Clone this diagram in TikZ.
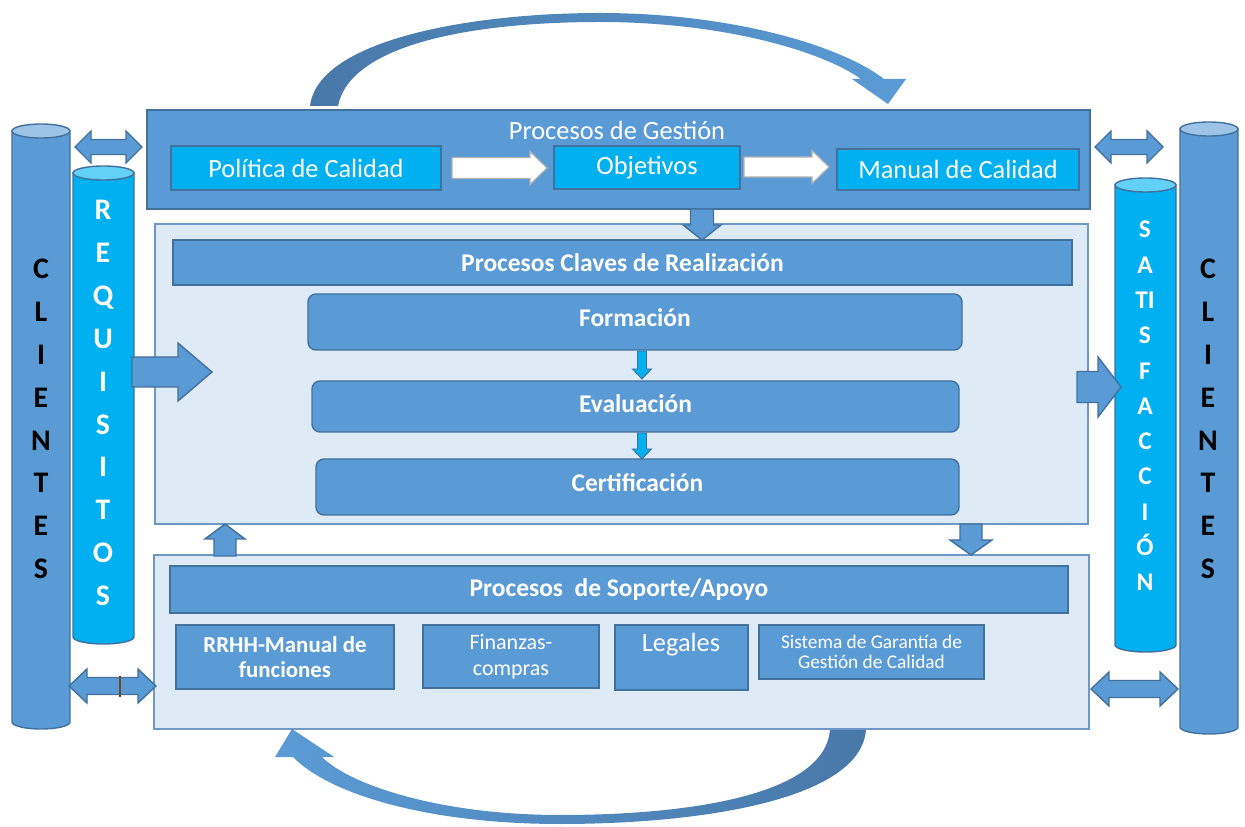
\documentclass[tikz,border=0pt]{standalone}
\usepackage{fontspec}
\setmainfont{Carlito}
\usepackage{tikz}
\usetikzlibrary{fit,calc}
\definecolor{cMid}{HTML}{5B9BD5}
\definecolor{cEdge}{HTML}{41719C}
\definecolor{cCyan}{HTML}{00B0F0}
\definecolor{cCyanTop}{HTML}{63D0F6}
\definecolor{cMidTop}{HTML}{9DC3E6}
\definecolor{cLight}{HTML}{DEEBF7}
\definecolor{cFrame}{HTML}{6E98C8}
\definecolor{cArc}{HTML}{4878A8}
\definecolor{cMark}{HTML}{6B4A2A}
\newcommand{\gtext}{\fontsize{15}{18}\selectfont}
\newcommand{\btext}{\bfseries\fontsize{14.5}{17}\selectfont}
% upright cylinder: left, right, top, bottom, body colour, lid colour
\newcommand{\drum}[6]{%
	\filldraw[draw=cEdge, fill=#5, line width=0.8pt]
	(#1,-#3) -- (#1,-#4) arc[start angle=180, end angle=360, x radius={(#2-#1)/2}, y radius=7] -- (#2,-#3) -- cycle;
	\filldraw[draw=cEdge, fill=#6, line width=0.8pt]
	({(#1+#2)/2},-#3) ellipse [x radius={(#2-#1)/2}, y radius=7];
}

\begin{document}
\begin{tikzpicture}[x=0.02cm, y=0.02cm,
	gbox/.style={draw=cEdge, fill=cMid, line width=0.8pt, inner sep=0pt},
	cbox/.style={gbox, fill=cCyan},
	framebox/.style={draw=cFrame, fill=cLight, line width=0.8pt, inner sep=0pt},
	stagebox/.style={gbox, rounded corners=4.5pt},
	txt/.style={text=white, font=\gtext, inner sep=0pt, align=center},
	btxt/.style={txt, font=\btext},
	blockarrow/.style={draw=cEdge, fill=cMid, line width=0.8pt},
	letters/.style={align=center, inner sep=0pt, font=\bfseries\fontsize{17}{24.4}\selectfont},
	pics/barrow/.style args={#1/#2/#3/#4}{code={
		\path[pic actions] (0,-#2/2) -- (#1-#4,-#2/2) -- (#1-#4,-#3/2) -- (#1,0)
		-- (#1-#4,#3/2) -- (#1-#4,#2/2) -- (0,#2/2) -- cycle;}},
	pics/dbarrow/.style args={#1/#2/#3/#4}{code={
		\path[pic actions] (0,0) -- (#4,#3/2) -- (#4,#2/2) -- (#1-#4,#2/2) -- (#1-#4,#3/2)
		-- (#1,0) -- (#1-#4,-#3/2) -- (#1-#4,-#2/2) -- (#4,-#2/2) -- (#4,-#3/2) -- cycle;}}
	]
	\useasboundingbox (0,0) rectangle (1245,-827);

	% the two loops over and under the processes
	\path[left color=cArc, right color=cMid]
	(310,-106) .. controls (318,-40) and (470,-13) .. (600,-13)
	.. controls (730,-13) and (840,-45) .. (884,-79)
	-- (906,-79) -- (888,-104) -- (852,-79) -- (861,-79)
	.. controls (820,-50) and (720,-22) .. (600,-22)
	.. controls (470,-22) and (350,-45) .. (338,-106) -- cycle;
	\path[left color=cMid, right color=cArc]
	(866,-729) .. controls (862,-800) and (700,-824) .. (560,-824)
	.. controls (430,-824) and (330,-795) .. (293,-757)
	-- (275,-757) -- (292,-729) -- (334,-757) -- (322,-757)
	.. controls (350,-785) and (440,-815) .. (560,-815)
	.. controls (690,-815) and (826,-795) .. (830,-729) -- cycle;

	% clients and their columns
	\drum{12}{70}{131}{722}{cMid}{cMidTop}
	\drum{73}{134}{173}{637}{cCyan}{cCyanTop}
	\drum{1115}{1176}{185}{645}{cCyan}{cCyanTop}
	\drum{1180}{1238}{129}{727}{cMid}{cMidTop}
	\node[letters] (cliL) at (41,-419) {C\\L\\I\\E\\N\\T\\E\\S};
	\node[letters, text=white] (req) at (103,-403) {R\\E\\Q\\U\\I\\S\\I\\T\\O\\S};
	\node[letters, text=white, font=\bfseries\fontsize{14.5}{20.1}\selectfont] (sat) at (1145,-406)
	{S\\A\\TI\\S\\F\\A\\C\\C\\I\\Ó\\N};
	\node[letters] (cliR) at (1208,-419) {C\\L\\I\\E\\N\\T\\E\\S};

	% management
	\node[gbox, fit={(147,-110) (1090,-209)}] (gest) {};
	\node[txt] (gestTitle) at (617,-130) {Procesos de Gestión};
	\node[cbox, fit={(171,-146) (441,-190)}, label={[txt, name=polTxt]center:Política de Calidad}] (pol) {};
	\node[cbox, fit={(554,-146) (740,-189)}, label={[txt, name=objTxt]center:Objetivos}] (obj) {};
	\node[cbox, fit={(837,-149) (1079,-190)}, label={[txt, name=manTxt]center:Manual de Calidad}] (man) {};
	\pic[draw=black!30, fill=white, line width=0.7pt] at (452,-168) {barrow=95/21/33/17};
	\pic[draw=black!30, fill=white, line width=0.7pt] at (744,-167) {barrow=85/20/33/17};

	% key processes
	\node[framebox, fit={(155,-224) (1088,-524)}] (claves) {};
	\node[gbox, fit={(173,-240) (1072,-285)},
	label={[btxt, name=clavesTxt]center:Procesos Claves de Realización}] (clavesBar) {};
	\node[stagebox, fit={(308,-294) (962,-350)}, label={[btxt, name=formTxt, yshift=2.5pt]center:Formación}] (form) {};
	\node[stagebox, fit={(312,-381) (959,-432)}, label={[btxt, name=evalTxt, yshift=1.5pt]center:Evaluación}] (eval) {};
	\node[stagebox, fit={(316,-459) (959,-515)}, label={[btxt, name=certTxt, yshift=2.5pt]center:Certificación}] (cert) {};
	\pic[draw=cEdge, fill=cCyan, line width=0.5pt, rotate=-90] at (642,-351) {barrow=28/9/19/10};
	\pic[draw=cEdge, fill=cCyan, line width=0.5pt, rotate=-90] at (642,-433) {barrow=26/9/19/10};
	\pic[blockarrow, rotate=-90] at (702,-209) {barrow=31/23/38/15};

	% support
	\node[framebox, fit={(154,-555) (1089,-729)}] (sop) {};
	\node[gbox, fit={(170,-566) (1068,-613)},
	label={[btxt, name=sopTxt]center:Procesos\ \ de Soporte/Apoyo}] (sopBar) {};
	\node[gbox, fit={(176,-625) (394,-689)},
	label={[txt, name=rrhhTxt, font=\bfseries\fontsize{13}{14.5}\selectfont]center:RRHH-Manual de\\funciones}] (rrhh) {};
	\node[gbox, fit={(423,-625) (599,-688)},
	label={[txt, name=finTxt, font=\fontsize{12.5}{14.7}\selectfont]center:Finanzas-\\compras}] (fin) {};
	\node[gbox, fit={(615,-625) (748,-690)}] (leg) {};
	\node[txt] (legTxt) at (681,-645) {Legales};
	\node[gbox, fit={(759,-625) (984,-679)},
	label={[txt, name=sisTxt, font=\fontsize{11}{11.5}\selectfont]center:Sistema de Garantía de\\Gestión de Calidad}] (sis) {};

	% flows between the blocks
	\pic[blockarrow] at (132,-372) {barrow=80/30/58/34};
	\pic[blockarrow] at (1077,-387) {barrow=44/31/60/23};
	\pic[blockarrow, rotate=90] at (225,-556) {barrow=32/22/40/15};
	\pic[blockarrow, rotate=-90] at (971,-524) {barrow=31/22/42/15};
	\pic[blockarrow] at (75,-147) {dbarrow=67/15/32/16};
	\pic[blockarrow] at (1095,-147) {dbarrow=68/15/32/16};
	\pic[blockarrow] at (69,-686) {dbarrow=87/17/34/18};
	\pic[blockarrow] at (1091,-689) {dbarrow=87/17/34/18};
	\draw[cMark, line width=0.8pt] (120,-676) -- (120,-697);
\end{tikzpicture}
\end{document}
